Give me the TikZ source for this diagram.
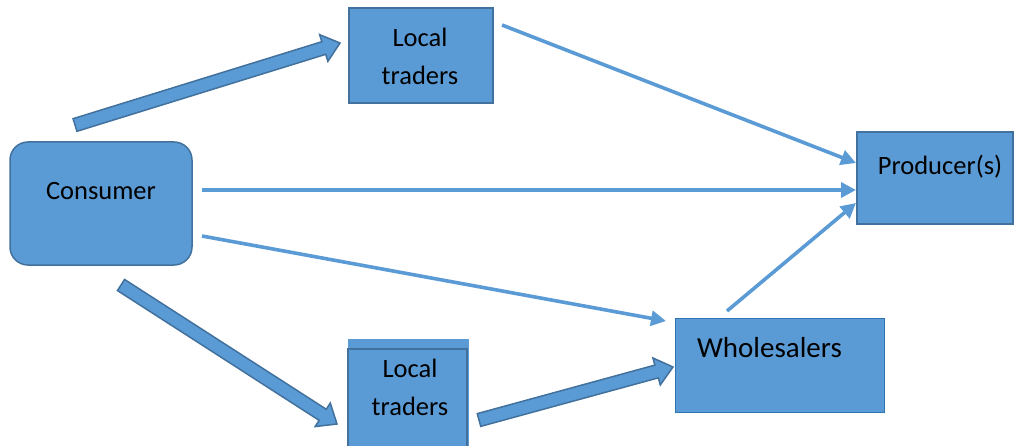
\documentclass[tikz,border=0pt]{standalone}
\usepackage{fontspec}
\setmainfont{Carlito}
\usetikzlibrary{arrows.meta,calc}
\definecolor{fillb}{HTML}{5B9BD5}
\definecolor{edgeb}{HTML}{41719C}
\definecolor{edgel}{HTML}{2E75B6}
\tikzset{
  box/.style={draw=edgeb, fill=fillb, line width=1.5pt, inner sep=0pt, outer sep=0pt},
  lbl/.style={anchor=base, inner sep=0pt, font=\fontsize{26.5}{38}\selectfont, text=black},
  thin/.style={draw=fillb, line width=3.6pt, -{Triangle[length=15pt,width=15pt]}},
  barrowstyle/.style={draw=edgeb, fill=fillb, line width=1.5pt, line join=miter}
}
\newcommand\blockarr[2]{%
  \coordinate (H) at ($(#2)!17pt!(#1)$);
  \draw[barrowstyle] ($(#1)!6.6pt!90:(#2)$) -- ($(H)!6.6pt!90:(#2)$) -- ($(H)!14pt!90:(#2)$) -- (#2)
    -- ($(H)!14pt!-90:(#2)$) -- ($(H)!6.6pt!-90:(#2)$) -- ($(#1)!6.6pt!-90:(#2)$) -- cycle;
}
\begin{document}
\begin{tikzpicture}[x=1pt,y=-1pt]
\useasboundingbox (0,0) rectangle (1016,446);
% boxes
\node[box, minimum width=144pt, minimum height=95pt] (lt1) at (421,55.5) {};
\node[box, rounded corners=18pt, minimum width=182pt, minimum height=123pt] (cons) at (101,203.5) {};
\node[box, minimum width=156pt, minimum height=92pt] (prod) at (935,178) {};
\node[box, draw=edgel, line width=1pt, minimum width=209pt, minimum height=94pt] (whol) at (779.5,365) {};
\fill[fillb] (348,339) rectangle (469,452);
\node[box, minimum width=119pt, minimum height=103pt] (lt2) at (407.5,400.5) {};
% labels
\node[lbl] (t1a) at (420,47) {Local};
\node[lbl] (t1b) at (420,85) {traders};
\node[lbl] (tc) at (101,200) {Consumer};
\node[lbl] (tp) at (940,175) {Producer(s)};
\node[lbl, font=\fontsize{29}{38}\selectfont] (tw) at (769.5,357) {Wholesalers};
\node[lbl] (t2a) at (410,377) {Local};
\node[lbl] (t2b) at (410,415) {traders};
% thin connectors
\coordinate (a1s) at (502,25);  \coordinate (a1e) at (856,163);
\coordinate (a2s) at (202,190); \coordinate (a2e) at (856,190);
\coordinate (a3s) at (202,236); \coordinate (a3e) at (666,321);
\coordinate (a4s) at (727,311); \coordinate (a4e) at (856,203);
\draw[thin] (a1s) -- (a1e);
\draw[thin] (a2s) -- (a2e);
\draw[thin] (a3s) -- (a3e);
\draw[thin] (a4s) -- (a4e);
% block arrows
\coordinate (b1s) at (75,125);  \coordinate (b1e) at (340,43);
\coordinate (b2s) at (121,285); \coordinate (b2e) at (337,424);
\coordinate (b3s) at (479,420); \coordinate (b3e) at (673,367);
\blockarr{b1s}{b1e}
\blockarr{b2s}{b2e}
\blockarr{b3s}{b3e}
\end{tikzpicture}
\end{document}
